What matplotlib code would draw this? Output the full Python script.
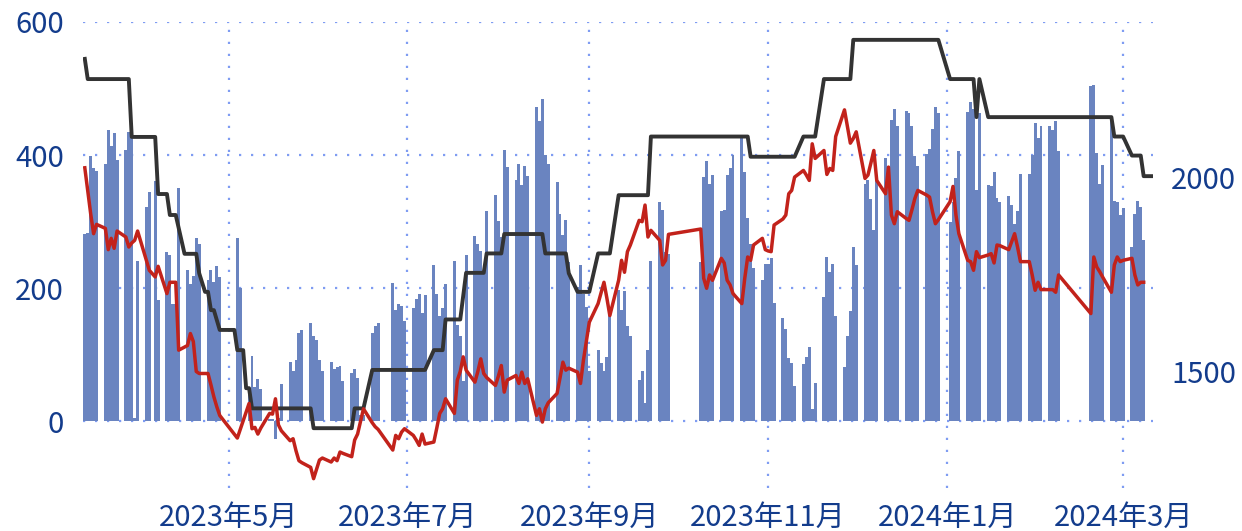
import matplotlib
matplotlib.use('Agg')
import matplotlib.pyplot as plt
import pandas as pd

plt.rcParams['font.family'] = ['Noto Sans CJK SC', 'DejaVu Sans']

BAR_COLOR = '#6a84c0'
RED = '#c2221b'
BLACK = '#333333'
GRID = '#7f9cf2'
LABEL = '#133c8c'

# exchange holidays (weekdays with no trading)
holidays = ['2023-04-05', '2023-05-01', '2023-05-02', '2023-05-03',
            '2023-06-22', '2023-06-23', '2023-09-29', '2023-10-02',
            '2023-10-03', '2023-10-04', '2023-10-05', '2023-10-06',
            '2024-01-01', '2024-02-09', '2024-02-12', '2024-02-13',
            '2024-02-14', '2024-02-15', '2024-02-16']

trade_days = pd.bdate_range('2023-03-13', '2024-03-08')
trade_days = trade_days[~trade_days.isin(pd.to_datetime(holidays))]

# bars, one per trading day (one row per week)
bar_values = [
    281, 283, 398, 380, 376,
    387, 438, 413, 433, 392,
    407, 435, 430, 5, 241,
    322, 344, 361, 183,
    254, 250, 176, 177, 350,
    227, 206, 218, 275, 267,
    213, 227, 210, 234, 217,
    275, 201,
    39, 99, 52, 63, 48,
    4, 3, -27, 5, 56,
    90, 75, 93, 133, 138,
    148, 129, 123, 92, 75,
    90, 78, 82, 83, 61,
    73, 78, 65, 10, 10,
    133, 143, 148,
    208, 168, 176, 174, 151,
    170, 184, 191, 163, 190,
    235, 191, 159, 170, 206,
    241, 145, 129, 60, 250,
    278, 267, 256, 222, 316,
    340, 301, 277, 407, 382,
    363, 386, 355, 384, 368,
    472, 452, 484, 400, 387,
    359, 311, 280, 302, 240,
    202, 235, 192, 172, 76,
    108, 88, 75, 97, 167,
    197, 167, 196, 144, 129,
    62, 76, 27, 108, 241,
    329, 317, 255, 252,
    240, 367, 391, 356, 370,
    316, 318, 370, 380, 400,
    425, 374, 305, 266, 230,
    212, 236, 237, 245, 178,
    156, 139, 95, 88, 53,
    86, 97, 112, 19, 58,
    187, 247, 224, 237, 158,
    81, 128, 166, 262, 235,
    357, 362, 334, 287, 362,
    395, 382, 453, 470, 444,
    466, 464, 444, 398, 383,
    402, 409, 439, 472, 464,
    300, 330, 366, 406,
    465, 480, 470, 347, 463,
    355, 354, 374, 336, 329,
    338, 325, 297, 316, 372,
    371, 400, 449, 426, 444,
    444, 437, 451, 406,
    504, 505, 403, 357, 385,
    457, 331, 330, 310, 320,
    262, 311, 331, 322, 272,
]

# red line, one per trading day (left axis)
red_values = [
    381, 346, 312, 282, 296,
    290, 258, 275, 260, 286,
    277, 262, 268, 272, 286,
    242, 227, 217, 233,
    192, 209, 209, 209, 107,
    114, 132, 120, 75, 72,
    72, 55, 37, 22, 9,
    -25, -12,
    27, -11, -9, -19, -10,
    12, 11, 34, -5, -14,
    -29, -26, -44, -59, -62,
    -69, -86, -72, -58, -55,
    -61, -55, -59, -46, -48,
    -53, -28, -19, 0, 19,
    -2, -8, -12,
    -43, -21, -26, -16, -11,
    -21, -28, -36, -19, -34,
    -31, -10, 12, 19, 34,
    12, 62, 75, 97, 77,
    59, 75, 94, 72, 66,
    54, 68, 84, 44, 62,
    69, 57, 74, 57, 64,
    9, 19, -1, 19, 28,
    42, 65, 89, 77, 80,
    74, 57, 92, 120, 149,
    177, 193, 209, 185, 159,
    212, 242, 224, 255, 265,
    302, 300, 325, 277, 287,
    272, 235, 242, 281,
    289, 215, 200, 220, 212,
    245, 238, 212, 205, 192,
    177, 215, 247, 242, 265,
    275, 258, 256, 255, 295,
    304, 310, 342, 347, 367,
    377, 370, 362, 417, 395,
    407, 371, 380, 377, 428,
    468, 443, 418, 425, 435,
    365, 370, 388, 407, 362,
    342, 382, 310, 297, 315,
    305, 302, 318, 335, 347,
    340, 337, 315, 297, 303,
    330, 353, 310, 282,
    242, 240, 227, 255, 246,
    250, 252, 238, 265, 264,
    258, 270, 282, 262, 240,
    240, 220, 197, 209, 198,
    198, 198, 194, 220,
    162, 247, 232, 225, 217,
    194, 235, 247, 240, 242,
    245, 220, 205, 209, 209,
]

# black step line (right axis), points where it changes
black_dates = [
    '2023-03-13', '2023-03-14', '2023-03-28', '2023-03-29', '2023-04-06', '2023-04-07',
    '2023-04-10', '2023-04-11', '2023-04-13', '2023-04-16', '2023-04-20', '2023-04-21',
    '2023-04-23', '2023-04-24', '2023-04-25', '2023-04-26', '2023-04-28', '2023-05-03',
    '2023-05-04', '2023-05-06', '2023-05-07', '2023-05-08', '2023-05-09', '2023-05-29',
    '2023-05-30', '2023-06-12', '2023-06-13', '2023-06-16', '2023-06-19', '2023-07-07',
    '2023-07-10', '2023-07-13', '2023-07-14', '2023-07-19', '2023-07-21', '2023-07-27',
    '2023-07-28', '2023-08-02', '2023-08-03', '2023-08-16', '2023-08-17', '2023-08-24',
    '2023-08-25', '2023-08-28', '2023-09-01', '2023-09-04', '2023-09-08', '2023-09-11',
    '2023-09-21', '2023-09-22', '2023-10-25', '2023-10-26', '2023-11-10', '2023-11-13',
    '2023-11-17', '2023-11-20', '2023-11-29', '2023-11-30', '2023-12-29', '2024-01-02',
    '2024-01-10', '2024-01-11', '2024-01-12', '2024-01-15', '2024-02-26', '2024-02-27',
    '2024-03-01', '2024-03-04', '2024-03-07', '2024-03-08', '2024-03-11',
]
black_values = [
    2305, 2253, 2253, 2104, 2104, 1957,
    1957, 1903, 1903, 1803, 1803, 1753,
    1705, 1705, 1658, 1658, 1607, 1607,
    1555, 1555, 1457, 1457, 1405, 1405,
    1354, 1354, 1405, 1405, 1504, 1504,
    1555, 1555, 1634, 1634, 1754, 1754,
    1804, 1804, 1854, 1854, 1804, 1804,
    1753, 1705, 1705, 1804, 1804, 1954,
    1954, 2105, 2105, 2053, 2053, 2105,
    2105, 2253, 2253, 2354, 2354, 2253,
    2253, 2155, 2253, 2155, 2155, 2105,
    2105, 2056, 2056, 2003, 2003,
]

month_ticks = pd.to_datetime(['2023-05-01', '2023-07-01', '2023-09-01',
                              '2023-11-01', '2024-01-01', '2024-03-01'])
month_labels = [f'{d.year}年{d.month}月' for d in month_ticks]

fig = plt.figure(figsize=(12.42, 5.31), dpi=100)
ax = fig.add_axes([0.0671, 0.0810, 0.8613, 0.8776])
ax2 = ax.twinx()
ax3 = ax.twinx()

# bars on the left axis
ax.bar(trade_days, bar_values, width=1.0, color=BAR_COLOR, linewidth=0, zorder=2)
ax.set_ylim(-100, 600)
ax.set_yticks([0, 200, 400, 600])
ax.set_xlim(pd.Timestamp('2023-03-12 12:00'), pd.Timestamp('2024-03-11 05:00'))
ax.set_xticks(month_ticks)
ax.set_xticklabels(month_labels)
ax.set_axisbelow(True)
ax.grid(True, color=GRID, linestyle=(0, (1, 4.4)), linewidth=1.6)

# black line on the right axis
ax2.plot(pd.to_datetime(black_dates), black_values, color=BLACK, linewidth=2.8)
ax2.set_ylim(1200, 2400)
ax2.set_yticks([1500, 2000])

# red line drawn on top, same scale as the bars
ax3.plot(trade_days, red_values, color=RED, linewidth=2.5)
ax3.set_ylim(-100, 600)
ax3.set_axis_off()

for a in (ax, ax2):
    for s in a.spines.values():
        s.set_visible(False)
ax.tick_params(axis='y', length=0, pad=14, labelsize=21, labelcolor=LABEL)
ax.tick_params(axis='x', length=0, pad=11, labelsize=21, labelcolor=LABEL)
ax2.tick_params(axis='y', length=0, pad=13, labelsize=21, labelcolor=LABEL)

fig.savefig('out.png', dpi=100)
